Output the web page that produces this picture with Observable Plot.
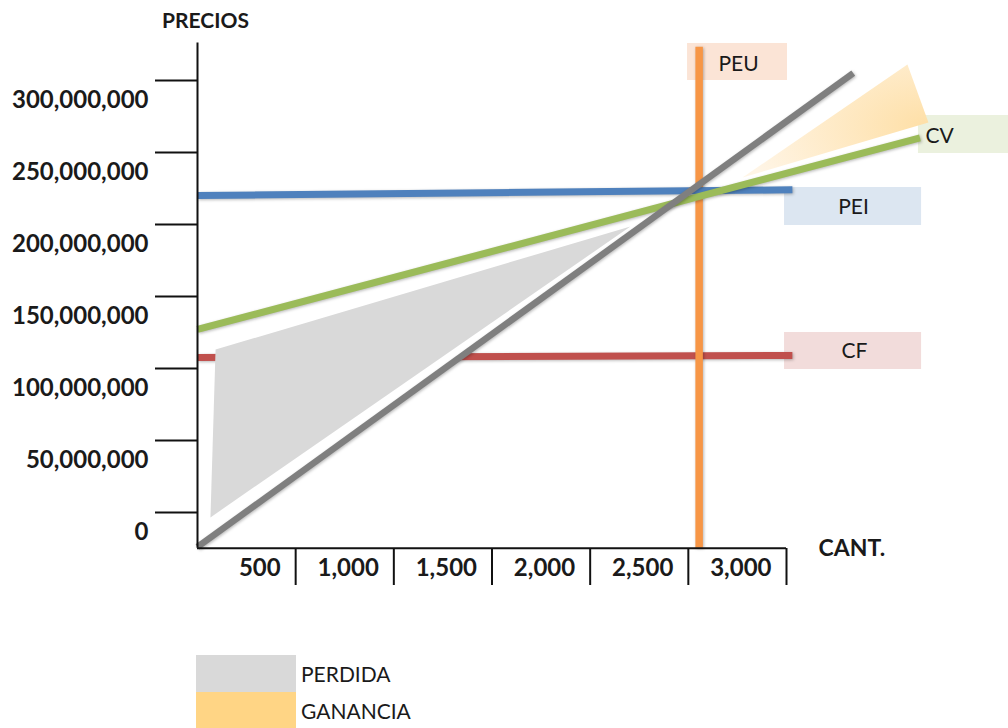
<!DOCTYPE html>
<html>
<head>
<meta charset="utf-8">
<script src="https://cdn.jsdelivr.net/npm/d3@7"></script>
<script src="https://cdn.jsdelivr.net/npm/@observablehq/plot@0.6"></script>
<style>
  html, body { margin: 0; padding: 0; background: #ffffff; }
  #wrap { position: relative; width: 1008px; height: 728px; font-family: Lato, "Open Sans", sans-serif; color: #1a1a1a; }
  #chart svg { display: block; }
  /* soft shadow under the coloured lines */
  #chart g[stroke="#7f7f7f"], #chart g[stroke="#c0504d"], #chart g[stroke="#4f81bd"],
  #chart g[stroke="#9bbb59"], #chart g[stroke="#f79646"] { filter: drop-shadow(1.5px 1.5px 1.5px rgba(0,0,0,0.28)); }
  .leyenda { position: absolute; left: 196px; display: flex; align-items: center; font-size: 21px; }
  .leyenda .sw { width: 100px; margin-right: 5px; }
</style>
</head>
<body>
<div id="wrap">
  <div id="chart"></div>
  <div class="leyenda" style="top:655px"><div class="sw" style="height:37px;background:#d9d9d9"></div><span>PERDIDA</span></div>
  <div class="leyenda" style="top:692px"><div class="sw" style="height:36px;background:#ffd585"></div><span>GANANCIA</span></div>
</div>
<script>
// Axis ticks
const cantTicks = [500, 1000, 1500, 2000, 2500, 3000];
const precioTicks = [0, 50e6, 100e6, 150e6, 200e6, 250e6, 300e6];

// Where the horizontal axis sits and how tall the vertical axis is (price units)
const ejeBase = -11e6;
const ejeTope = 340e6;

// Ingreso total (gray line)
const ingresoCant = [0, 3340];
const ingresoValor = [-10e6, 319e6];

// Costo variable + fijo (CV, green line)
const cvCant = [0, 3680];
const cvValor = [141e6, 274e6];

// Punto de equilibrio en ingresos (PEI, blue line)
const peiCant = [0, 3030];
const peiValor = [234e6, 238e6];

// Costo fijo (CF, red line)
const cfCant = [0, 3030];
const cfValor = [121.5e6, 123e6];

// Punto de equilibrio en unidades (PEU, orange vertical)
const peuCant = 2555;
const peuTope = 337e6;

// Loss region (PERDIDA) and profit region (GANANCIA)
const perdidaCant = [92, 66, 2205];
const perdidaValor = [127e6, 10.5e6, 212.5e6];
const gananciaCant = [2776, 3616, 3723];
const gananciaValor = [246.5e6, 325e6, 284.7e6];

// Line labels with their boxes
const etiquetas = ["PEU", "CV", "PEI", "CF"];
const etqCant = [2756, 3708, 3341, 3346];
const etqValor = [325e6, 275e6, 225.7e6, 125.7e6];
const etqAncla = ["middle", "start", "middle", "middle"];
const cajaCant1 = [2496, 3672, 2990, 2990];
const cajaCant2 = [3005, 4131, 3688, 3688];
const cajaValor1 = [313.9e6, 263.2e6, 213.2e6, 113.2e6];
const cajaValor2 = [339.6e6, 289.6e6, 239.6e6, 138.9e6];
const cajaColor = ["#fbe4d6", "#ebf1de", "#dce6f1", "#f2dcdb"];

const pts = (xs, ys) => xs.map((x, i) => ({x, y: ys[i]}));
const ingreso = pts(ingresoCant, ingresoValor);
const cv = pts(cvCant, cvValor);
const pei = pts(peiCant, peiValor);
const cf = pts(cfCant, cfValor);
const perdida = pts(perdidaCant, perdidaValor);
const ganancia = pts(gananciaCant, gananciaValor);
const cajas = etiquetas.map((t, i) => ({
  t, x: etqCant[i], y: etqValor[i], anchor: etqAncla[i],
  x1: cajaCant1[i], x2: cajaCant2[i], y1: cajaValor1[i], y2: cajaValor2[i], c: cajaColor[i]
}));

// gradient used by the profit region
const gradiente = () => {
  const ns = "http://www.w3.org/2000/svg";
  const defs = document.createElementNS(ns, "defs");
  defs.innerHTML = `<radialGradient id="grad-ganancia" cx="1" cy="0.55" r="1">
    <stop offset="0" stop-color="#fedfa6"/>
    <stop offset="1" stop-color="#fff5e6"/>
  </radialGradient>`;
  return defs;
};

const fmt = d3.format(",");
const tinta = "#1a1a1a";
const chart = Plot.plot({
  width: 1008,
  height: 640,
  marginLeft: 197,
  marginRight: 0,
  marginTop: 43,
  marginBottom: 92,
  x: {domain: [0, 3000], range: [197, 786]},
  y: {domain: [0, 300e6], range: [532, 100]},
  style: {fontFamily: "Lato, 'Open Sans', sans-serif", color: tinta, background: "white"},
  marks: [
    gradiente,
    // label boxes
    Plot.rect(cajas, {x1: "x1", x2: "x2", y1: "y1", y2: "y2", fill: "c"}),
    // CF line
    Plot.line(cf, {x: "x", y: "y", stroke: "#c0504d", strokeWidth: 7, strokeLinecap: "butt"}),
    // white edge along the upper side of the income line
    Plot.line(ingreso, {x: "x", y: "y", stroke: "white", strokeWidth: 20, dx: -5, dy: -7, strokeLinecap: "butt"}),
    // PEU vertical
    Plot.ruleX([peuCant], {y1: ejeBase, y2: peuTope, stroke: "#f79646", strokeWidth: 7.5}),
    // loss and profit regions
    Plot.line(perdida, {x: "x", y: "y", fill: "#d9d9d9", stroke: "none", curve: "linear-closed"}),
    Plot.line(ganancia, {x: "x", y: "y", fill: "url(#grad-ganancia)", stroke: "none", curve: "linear-closed"}),
    // PEI, CV and income lines
    Plot.line(pei, {x: "x", y: "y", stroke: "#4f81bd", strokeWidth: 7, strokeLinecap: "butt"}),
    Plot.line(cv, {x: "x", y: "y", stroke: "#9bbb59", strokeWidth: 7, strokeLinecap: "butt"}),
    Plot.line(ingreso, {x: "x", y: "y", stroke: "#7f7f7f", strokeWidth: 6.5, strokeLinecap: "butt"}),
    // labels in boxes
    Plot.text(cajas.filter(d => d.anchor === "middle"), {x: "x", y: "y", text: "t", textAnchor: "middle", fontSize: 21, fill: tinta}),
    Plot.text(cajas.filter(d => d.anchor === "start"), {x: "x", y: "y", text: "t", textAnchor: "start", fontSize: 21, fill: tinta}),
    // axes
    Plot.ruleX([0], {y1: ejeBase, y2: ejeTope, stroke: "#111", strokeWidth: 2}),
    Plot.ruleY([ejeBase], {x1: 0, x2: 3000, stroke: "#111", strokeWidth: 2}),
    Plot.axisY({ticks: precioTicks, tickSize: 42, dy: -20, fill: "none", stroke: "#111", strokeWidth: 2, label: null}),
    Plot.axisY({ticks: precioTicks, tickSize: 0, tickPadding: 49, tickFormat: fmt, fontSize: 24, fontWeight: "bold", fill: tinta, label: null}),
    Plot.axisX({ticks: cantTicks, tickSize: 37, fill: "none", stroke: "#111", strokeWidth: 2, label: null}),
    Plot.axisX({ticks: cantTicks, tickSize: 0, tickPadding: 10, textAnchor: "end", dx: -15, tickFormat: fmt, fontSize: 24, fontWeight: "bold", fill: tinta, label: null}),
    // axis titles
    Plot.text(["PRECIOS"], {frameAnchor: "top-left", dx: 8, dy: -22, textAnchor: "middle", lineAnchor: "middle", fontSize: 21, fontWeight: "bold", fill: tinta}),
    Plot.text(["CANT."], {frameAnchor: "bottom-left", dx: 621, dy: 0, textAnchor: "start", lineAnchor: "middle", fontSize: 23, fontWeight: "bold", fill: tinta})
  ]
});
document.getElementById("chart").appendChild(chart);
</script>
</body>
</html>
